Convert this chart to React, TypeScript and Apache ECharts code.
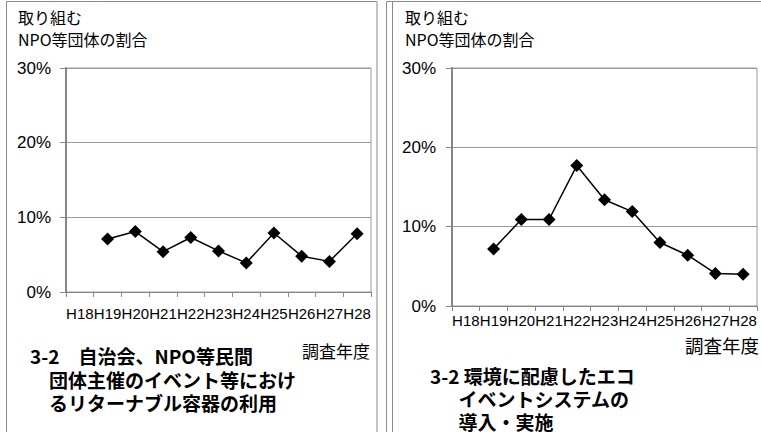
import React, { useEffect, useRef } from "react";
import * as echarts from "echarts";

const categories = ["H18", "H19", "H20", "H21", "H22", "H23", "H24", "H25", "H26", "H27", "H28"];
const leftValues: (number | null)[] = [null, 7.1, 8.1, 5.4, 7.3, 5.5, 3.9, 7.9, 4.8, 4.1, 7.8];
const rightValues: (number | null)[] = [null, 7.2, 10.9, 10.9, 17.7, 13.4, 11.9, 8.0, 6.4, 4.1, 4.0];
const yTicks = { min: 0, max: 30, interval: 10 };
const headerText = "取り組む\nNPO等団体の割合";
const xAxisName = "調査年度";
const leftTitle = "3-2　自治会、NPO等民間\n　団体主催のイベント等におけ\n　るリターナブル容器の利用";
const rightTitle = "3-2 環境に配慮したエコ\n\u3000\u2002イベントシステムの\n\u3000\u2002導入・実施";

const NUM_FONT = '"Liberation Sans", Arial, sans-serif';
const JP_FONT = '"Noto Sans CJK JP", sans-serif';

export default function App() {
  const ref = useRef<HTMLDivElement>(null);
  useEffect(() => {
    if (!ref.current) return;
    const chart = echarts.init(ref.current, undefined, { renderer: "svg" });

    const mkX = (gridIndex: number, margin: number) => ({
      type: "category" as const,
      gridIndex,
      data: categories,
      boundaryGap: true,
      axisLine: { show: true, lineStyle: { color: "#868686", width: 1 } },
      axisTick: { show: true, length: 5, lineStyle: { color: "#868686" } },
      axisLabel: { interval: 0, color: "#000", fontSize: 15, fontFamily: NUM_FONT, margin },
      splitLine: { show: false },
    });
    const mkY = (gridIndex: number, margin: number) => ({
      type: "value" as const,
      gridIndex,
      min: yTicks.min,
      max: yTicks.max,
      interval: yTicks.interval,
      axisLine: { show: true, lineStyle: { color: "#868686", width: 2 } },
      axisTick: { show: true, length: 6, lineStyle: { color: "#868686" } },
      axisLabel: { color: "#000", fontSize: 17, fontFamily: NUM_FONT, margin, formatter: "{value}%" },
      splitLine: { show: true, lineStyle: { color: "#9a9a9a", width: 1 } },
    });
    const mkSeries = (i: number, data: (number | null)[]) => ({
      type: "line" as const,
      xAxisIndex: i,
      yAxisIndex: i,
      data,
      symbol: "diamond",
      symbolSize: 13,
      itemStyle: { color: "#000" },
      lineStyle: { color: "#000", width: 1.5 },
    });
    const txt = (x: number, y: number, text: string, size: number, lineHeight: number, bold = false) => ({
      type: "text" as const,
      x,
      y,
      style: {
        text,
        fill: "#000",
        font: `${bold ? "bold " : ""}${size}px ${JP_FONT}`,
        lineHeight,
        textVerticalAlign: "top",
      },
    });

    const graphics: any[] = [
      { type: "rect", shape: { x: 6.5, y: 1.5, width: 370.5, height: 450 }, style: { fill: "none", stroke: "#8a8a8a", lineWidth: 1 } },
      { type: "rect", shape: { x: 386.5, y: 1.5, width: 400, height: 450 }, style: { fill: "none", stroke: "#8a8a8a", lineWidth: 1 } },
      { type: "line", shape: { x1: 392.5, y1: 1.5, x2: 392.5, y2: 432 }, style: { stroke: "#8a8a8a", lineWidth: 1 } },
      txt(18, 6, headerText, 16, 22),
      txt(405, 6, headerText, 16, 22),
      txt(302, 341, xAxisName, 17, 19),
      txt(685, 335, xAxisName, 18.5, 20),
      txt(30, 344, leftTitle, 19, 23.5, true),
      txt(430, 364, rightTitle, 19, 23, true),
    ];

    chart.setOption({
      animation: false,
      backgroundColor: "#fff",
      grid: [
        { left: 66, top: 68, width: 305, height: 224, show: true, borderColor: "#9a9a9a", borderWidth: 1, containLabel: false },
        { left: 452, top: 68, width: 305, height: 238, show: true, borderColor: "#9a9a9a", borderWidth: 1, containLabel: false },
      ],
      xAxis: [mkX(0, 14), mkX(1, 7)],
      yAxis: [mkY(0, 15), mkY(1, 16)],
      series: [mkSeries(0, leftValues), mkSeries(1, rightValues)],
      graphic: graphics,
    });
    return () => chart.dispose();
  }, []);
  return <div ref={ref} style={{ position: "fixed", left: 0, top: 0, width: 761, height: 432 }} />;
}
